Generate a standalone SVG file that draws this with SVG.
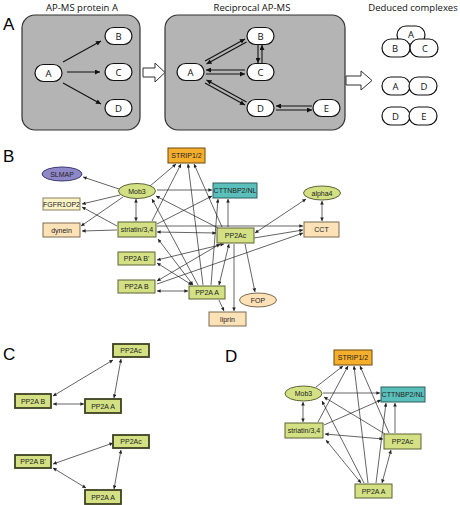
<svg xmlns="http://www.w3.org/2000/svg" width="460" height="505" viewBox="0 0 460 505">
<style>
.pl{font-family:"Liberation Sans",Arial,sans-serif;font-size:17px;fill:#000}
.tt{font-family:"Open Sans","Liberation Sans",sans-serif;font-size:9.5px;fill:#111;text-anchor:middle}
.pill{fill:#fff;stroke:#111;stroke-width:1.2}
.pt{font-family:"Open Sans","Liberation Sans",sans-serif;font-size:9.5px;fill:#111;text-anchor:middle;dominant-baseline:central}
.gbox{fill:#b4b4b4;stroke:#333;stroke-width:1.2}
.hol{fill:#fff;stroke:#333;stroke-width:1}
.ea{stroke:#111;stroke-width:1.1;fill:none;marker-end:url(#ahA)}
.es{stroke:#111;stroke-width:1.1;fill:none;marker-start:url(#ahA)}
.nt{font-family:"Liberation Sans",Arial,sans-serif;font-size:7px;fill:#222;text-anchor:middle;dominant-baseline:central}
.g{fill:#d3e184;stroke:#5d6334;stroke-width:1}
.gc{fill:#d3e184;stroke:#3d4220;stroke-width:1.8}
.o{fill:#f6ae2d;stroke:#6b4a10;stroke-width:1}
.t{fill:#5bc0bc;stroke:#2e5f5e;stroke-width:1}
.p{fill:#8f88c8;stroke:#3b3870;stroke-width:1}
.y{fill:#fcf3c6;stroke:#8a8060;stroke-width:1}
.pe{fill:#fde1b7;stroke:#7a6a50;stroke-width:1}
.e1{stroke:#222;stroke-width:0.7;fill:none;marker-end:url(#ah)}
.e2{stroke:#222;stroke-width:0.7;fill:none;marker-end:url(#ah);marker-start:url(#ah)}
</style>
<defs>
<marker id="ah" viewBox="0 0 10 10" refX="10" refY="5" markerWidth="4.5" markerHeight="3.6" markerUnits="userSpaceOnUse" orient="auto-start-reverse"><path d="M0,0L10,5L0,10z" fill="#222"/></marker>
<marker id="ahA" viewBox="0 0 10 10" refX="10" refY="5" markerWidth="7" markerHeight="5" markerUnits="userSpaceOnUse" orient="auto-start-reverse"><path d="M0,0L10,5L0,10z" fill="#111"/></marker>
</defs>

<!-- Panel A -->
<g id="panelA">
<text class="pl" x="3" y="30" font-size="20">A</text>
<text class="tt" x="82" y="11">AP-MS protein A</text>
<text class="tt" x="252" y="11">Reciprocal AP-MS</text>
<text class="tt" x="413" y="11">Deduced complexes</text>
<rect class="gbox" x="22" y="15" width="118" height="115" rx="13"/>
<rect class="gbox" x="165" y="15" width="180" height="115" rx="13"/>
<path class="hol" d="M143,68H155V63L165,72.5L155,82V77H143Z"/>
<path class="hol" d="M346,76H361V71L372,80.5L361,90V85H346Z"/>
</g>
<g id="a1-A"><rect class="pill" x="35" y="64.5" width="27" height="17" rx="8.5"/><text class="pt" x="48.5" y="73">A</text></g>
<g id="a1-B"><rect class="pill" x="105" y="27.5" width="27" height="17" rx="8.5"/><text class="pt" x="118.5" y="36">B</text></g>
<g id="a1-C"><rect class="pill" x="105" y="63.5" width="27" height="17" rx="8.5"/><text class="pt" x="118.5" y="72">C</text></g>
<g id="a1-D"><rect class="pill" x="105" y="99.5" width="27" height="17" rx="8.5"/><text class="pt" x="118.5" y="108">D</text></g>
<g id="a2-A"><rect class="pill" x="177" y="63.5" width="27" height="17" rx="8.5"/><text class="pt" x="190.5" y="72">A</text></g>
<g id="a2-B"><rect class="pill" x="247" y="27.5" width="27" height="17" rx="8.5"/><text class="pt" x="260.5" y="36">B</text></g>
<g id="a2-C"><rect class="pill" x="247" y="63.5" width="27" height="17" rx="8.5"/><text class="pt" x="260.5" y="72">C</text></g>
<g id="a2-D"><rect class="pill" x="247" y="99.5" width="27" height="17" rx="8.5"/><text class="pt" x="260.5" y="108">D</text></g>
<g id="a2-E"><rect class="pill" x="313" y="99.5" width="27" height="17" rx="8.5"/><text class="pt" x="326.5" y="108">E</text></g>
<g id="c1">
<rect class="pill" x="397" y="26" width="28" height="18" rx="9"/><text class="pt" x="411" y="34">A</text>
<rect class="pill" x="382" y="39" width="28" height="18" rx="9"/><text class="pt" x="395" y="48">B</text>
<rect class="pill" x="410" y="39" width="28" height="18" rx="9"/><text class="pt" x="425" y="48">C</text>
</g>
<g id="c2">
<rect class="pill" x="382" y="77" width="28" height="18" rx="9"/><text class="pt" x="395.5" y="86">A</text>
<rect class="pill" x="409" y="77" width="28" height="18" rx="9"/><text class="pt" x="424" y="86">D</text>
</g>
<g id="c3">
<rect class="pill" x="382" y="107" width="28" height="18" rx="9"/><text class="pt" x="395.5" y="116">D</text>
<rect class="pill" x="409" y="107" width="28" height="18" rx="9"/><text class="pt" x="424" y="116">E</text>
</g>
<g id="connectorsA">
<line class="ea" x1="63" y1="62" x2="101" y2="41"/>
<line class="ea" x1="67" y1="72" x2="100" y2="72"/>
<line class="ea" x1="63" y1="83" x2="101" y2="104"/>
<line class="ea" x1="205" y1="61" x2="245" y2="39"/>
<line class="es" x1="206.5" y1="64" x2="246.5" y2="42"/>
<line class="es" x1="206" y1="70" x2="245" y2="70"/>
<line class="ea" x1="206" y1="74" x2="245" y2="74"/>
<line class="es" x1="206.5" y1="80" x2="246.5" y2="102"/>
<line class="ea" x1="205" y1="83" x2="245" y2="105"/>
<line class="ea" x1="258" y1="45" x2="258" y2="63"/>
<line class="es" x1="262" y1="45" x2="262" y2="63"/>
<line class="es" x1="276" y1="106" x2="312" y2="106"/>
<line class="ea" x1="276" y1="110" x2="312" y2="110"/>
</g>

<!-- Panel B -->
<text class="pl" x="3" y="162">B</text>
<g id="connectorsB">
<line class="e1" x1="119" y1="189" x2="83" y2="177"/>
<line class="e1" x1="120" y1="195" x2="82" y2="204"/>
<line class="e1" x1="123" y1="197" x2="81" y2="226"/>
<line class="e1" x1="117" y1="226" x2="82" y2="207"/>
<line class="e1" x1="117" y1="230" x2="82" y2="231"/>
<line class="e2" x1="136" y1="199" x2="136" y2="221"/>
<line class="e1" x1="150" y1="186" x2="176" y2="164"/>
<line class="e1" x1="152" y1="221" x2="181" y2="164"/>
<line class="e1" x1="203" y1="285" x2="188" y2="164"/>
<line class="e1" x1="222" y1="227" x2="194" y2="164"/>
<line class="e1" x1="157" y1="190" x2="212" y2="190"/>
<line class="e1" x1="157" y1="224" x2="212" y2="196"/>
<line class="e1" x1="228" y1="227" x2="228" y2="199"/>
<line class="e1" x1="211" y1="285" x2="218" y2="199"/>
<line class="e1" x1="218" y1="228" x2="156" y2="196"/>
<line class="e1" x1="198" y1="285" x2="152" y2="199"/>
<line class="e2" x1="157" y1="232" x2="216" y2="233"/>
<line class="e2" x1="193" y1="285" x2="158" y2="239"/>
<line class="e1" x1="157" y1="226" x2="303" y2="226"/>
<line class="e1" x1="254" y1="238" x2="303" y2="230"/>
<line class="e1" x1="157" y1="284" x2="303" y2="233"/>
<line class="e2" x1="322" y1="201" x2="322" y2="221"/>
<line class="e2" x1="255" y1="233" x2="306" y2="199"/>
<line class="e2" x1="157" y1="260" x2="224" y2="244"/>
<line class="e2" x1="157" y1="263" x2="192" y2="285"/>
<line class="e2" x1="157" y1="281" x2="220" y2="244"/>
<line class="e2" x1="157" y1="291" x2="188" y2="291"/>
<line class="e2" x1="229" y1="244" x2="219" y2="285"/>
<line class="e1" x1="219" y1="300" x2="224" y2="311"/>
<line class="e1" x1="234" y1="244" x2="234" y2="311"/>
<line class="e1" x1="245" y1="244" x2="255" y2="292"/>
</g>
<g id="b-STRIP"><rect class="o" x="168" y="148" width="37" height="15"/><text class="nt" x="186.5" y="155.5">STRIP1/2</text></g>
<g id="b-SLMAP"><ellipse class="p" cx="62" cy="174" rx="20" ry="7"/><text class="nt" x="62" y="174">SLMAP</text></g>
<g id="b-Mob3"><ellipse class="g" cx="137" cy="191" rx="18.5" ry="7.5"/><text class="nt" x="137" y="191">Mob3</text></g>
<g id="b-FGFR1OP2"><rect class="y" x="43" y="198" width="37" height="12"/><text class="nt" x="61.5" y="204" font-size="6">FGFR1OP2</text></g>
<g id="b-dynein"><rect class="pe" x="43" y="223" width="37" height="14"/><text class="nt" x="61.5" y="230">dynein</text></g>
<g id="b-striatin"><rect class="g" x="118" y="222" width="38" height="15"/><text class="nt" x="137" y="229.5">striatin/3,4</text></g>
<g id="b-CTTNBP2"><rect class="t" x="213" y="183" width="44" height="15"/><text class="nt" x="235" y="190.5">CTTNBP2/NL</text></g>
<g id="b-alpha4"><ellipse class="g" cx="322" cy="193" rx="18.5" ry="7"/><text class="nt" x="322" y="193">alpha4</text></g>
<g id="b-CCT"><rect class="pe" x="304" y="222" width="35" height="15"/><text class="nt" x="321.5" y="229.5">CCT</text></g>
<g id="b-PP2Ac"><rect class="g" x="217" y="228" width="37" height="15"/><text class="nt" x="235.5" y="235.5" font-size="8">PP2Ac</text></g>
<g id="b-PP2ABp"><rect class="g" x="118" y="252" width="37" height="13"/><text class="nt" x="136.5" y="258.5">PP2A B'</text></g>
<g id="b-PP2AB"><rect class="g" x="118" y="280" width="37" height="13"/><text class="nt" x="136.5" y="286.5">PP2A B</text></g>
<g id="b-PP2AA"><rect class="g" x="189" y="286" width="36" height="13"/><text class="nt" x="207" y="292.5">PP2A A</text></g>
<g id="b-liprin"><rect class="pe" x="209" y="312" width="37" height="14"/><text class="nt" x="227.5" y="319">liprin</text></g>
<g id="b-FOP"><ellipse class="pe" cx="258" cy="300" rx="18.5" ry="7"/><text class="nt" x="258" y="300">FOP</text></g>

<!-- Panel C -->
<text class="pl" x="3" y="360">C</text>
<g id="connectorsC">
<line class="e2" x1="53" y1="396" x2="113" y2="360"/>
<line class="e2" x1="121" y1="359" x2="114" y2="398"/>
<line class="e2" x1="53" y1="404" x2="84" y2="404"/>
<line class="e2" x1="53" y1="464" x2="113" y2="443"/>
<line class="e2" x1="53" y1="468" x2="86" y2="488"/>
<line class="e2" x1="121" y1="450" x2="114" y2="489"/>
</g>
<g id="c-PP2Ac1"><rect class="gc" x="113" y="344" width="36" height="13"/><text class="nt" x="131" y="350.5">PP2Ac</text></g>
<g id="c-PP2AB"><rect class="gc" x="15" y="394" width="36" height="14"/><text class="nt" x="33" y="401">PP2A B</text></g>
<g id="c-PP2AA1"><rect class="gc" x="85" y="399" width="36" height="14"/><text class="nt" x="103" y="406">PP2A A</text></g>
<g id="c-PP2Ac2"><rect class="gc" x="113" y="435" width="36" height="13"/><text class="nt" x="131" y="441.5">PP2Ac</text></g>
<g id="c-PP2ABp"><rect class="gc" x="15" y="455" width="36" height="13"/><text class="nt" x="33" y="461.5">PP2A B'</text></g>
<g id="c-PP2AA2"><rect class="gc" x="85" y="490" width="36" height="14"/><text class="nt" x="103" y="497">PP2A A</text></g>

<!-- Panel D -->
<text class="pl" x="225" y="362">D</text>
<g id="connectorsD">
<line class="e1" x1="316" y1="387" x2="343" y2="366"/>
<line class="e1" x1="318" y1="422" x2="348" y2="366"/>
<line class="e1" x1="368" y1="483" x2="354" y2="366"/>
<line class="e1" x1="389" y1="433" x2="360" y2="366"/>
<line class="e1" x1="323" y1="393" x2="380" y2="393"/>
<line class="e1" x1="324" y1="425" x2="381" y2="400"/>
<line class="e1" x1="395" y1="433" x2="395" y2="403"/>
<line class="e1" x1="376" y1="483" x2="386" y2="403"/>
<line class="e1" x1="385" y1="434" x2="324" y2="397"/>
<line class="e1" x1="364" y1="483" x2="322" y2="401"/>
<line class="e2" x1="303" y1="402" x2="303" y2="422"/>
<line class="e2" x1="325" y1="434" x2="383" y2="439"/>
<line class="e2" x1="326" y1="440" x2="361" y2="483"/>
<line class="e2" x1="391" y1="450" x2="382" y2="483"/>
</g>
<g id="d-STRIP"><rect class="o" x="334" y="350" width="38" height="15"/><text class="nt" x="353" y="357.5">STRIP1/2</text></g>
<g id="d-Mob3"><ellipse class="g" cx="303.5" cy="393.5" rx="18.5" ry="7.5"/><text class="nt" x="303.5" y="393.5">Mob3</text></g>
<g id="d-CTTNBP2"><rect class="t" x="381" y="387" width="44" height="15"/><text class="nt" x="403" y="394.5">CTTNBP2/NL</text></g>
<g id="d-striatin"><rect class="g" x="285" y="423" width="38" height="15"/><text class="nt" x="304" y="430.5">striatin/3,4</text></g>
<g id="d-PP2Ac"><rect class="g" x="384" y="434" width="37" height="15"/><text class="nt" x="402.5" y="441.5" font-size="8">PP2Ac</text></g>
<g id="d-PP2AA"><rect class="g" x="355" y="484" width="37" height="14"/><text class="nt" x="373.5" y="491">PP2A A</text></g>
</svg>
